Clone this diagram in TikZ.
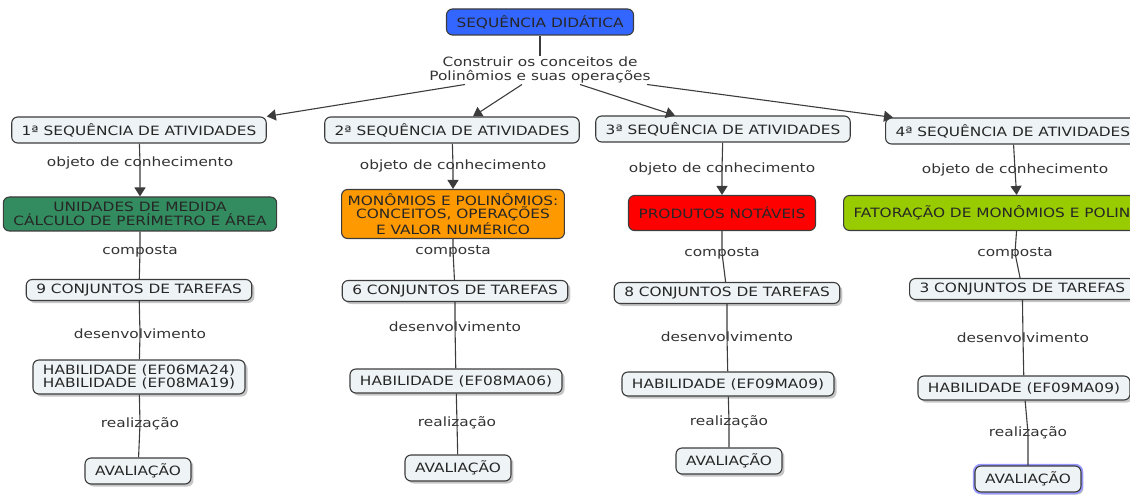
\documentclass[tikz,border=0pt]{standalone}
\usepackage{fontspec}
\setmainfont{DejaVu Sans}[FakeStretch=1.2]
\usetikzlibrary{arrows.meta,shadows}
\definecolor{boxgray}{RGB}{238,243,246}
\definecolor{edgegray}{RGB}{60,60,60}
\definecolor{rootblue}{RGB}{51,102,255}
\definecolor{medgreen}{RGB}{51,140,95}
\definecolor{monorange}{RGB}{255,153,0}
\definecolor{prodred}{RGB}{255,0,0}
\definecolor{fatlime}{RGB}{153,204,0}
\definecolor{selblue}{RGB}{150,150,255}
\tikzset{concept/.style={rectangle, draw=edgegray, fill=boxgray, rounded corners=6pt,
    align=center, inner xsep=10pt, inner ysep=3pt, minimum height=26pt, text=black!85},
  shadowed/.style={drop shadow={shadow xshift=2.5pt, shadow yshift=-2.5pt, opacity=0.45}},
  linkword/.style={align=center, inner sep=1pt, text=black!80}}

\begin{document}
\begin{tikzpicture}[x=1pt,y=-1pt,>={Triangle[length=9pt,width=11pt]},line width=1.1pt,
                    font=\fontsize{12.8}{13.5}\selectfont,draw=edgegray]
  \clip (0,0) rectangle (1130,497);

  \node[concept, fill=rootblue]     (root)   at (540,22)  {SEQUÊNCIA DIDÁTICA};
  \node[linkword]                   (phrase) at (540,70)  {Construir os conceitos de\\Polinômios e suas operações};

  \node[concept]                    (seqA)   at (139,130) {1ª SEQUÊNCIA DE ATIVIDADES};
  \node[concept]                    (seqB)   at (452,130) {2ª SEQUÊNCIA DE ATIVIDADES};
  \node[concept]                    (seqC)   at (723,129) {3ª SEQUÊNCIA DE ATIVIDADES};
  \node[concept, anchor=west]       (seqD)   at (885,131) {4ª SEQUÊNCIA DE ATIVIDADES};

  % objeto de conhecimento
  \node[linkword] (objA) at (140,163) {objeto de conhecimento};
  \node[linkword] (objB) at (453,166) {objeto de conhecimento};
  \node[linkword] (objC) at (722,169) {objeto de conhecimento};
  \node[linkword] (objD) at (1015,170) {objeto de conhecimento};

  \node[concept, fill=medgreen, minimum height=34pt, inner ysep=1pt] (unidA) at (140,214)
       {UNIDADES DE MEDIDA\\CÁLCULO DE PERÍMETRO E ÁREA};
  \node[concept, fill=monorange, minimum height=49pt, inner xsep=6pt] (monoB) at (453,214)
       {MONÔMIOS E POLINÔMIOS:\\CONCEITOS, OPERAÇÕES\\E VALOR NUMÉRICO};
  \node[concept, fill=prodred, minimum height=35pt] (prodC) at (722,213) {PRODUTOS NOTÁVEIS};
  \node[concept, fill=fatlime, minimum height=35pt, anchor=west] (fatD) at (843,213)
       {FATORAÇÃO DE MONÔMIOS E POLINÔMIOS};

  % composta
  \node[linkword] (compA) at (140,251) {composta};
  \node[linkword] (compB) at (453,251) {composta};
  \node[linkword] (compC) at (722,253) {composta};
  \node[linkword] (compD) at (1015,253) {composta};

  \node[concept, shadowed, minimum height=21pt, inner ysep=1pt] (tarA) at (139,290) {9 CONJUNTOS DE TAREFAS};
  \node[concept, shadowed, minimum height=21pt, inner ysep=1pt] (tarB) at (455,291) {6 CONJUNTOS DE TAREFAS};
  \node[concept, shadowed, minimum height=21pt, inner ysep=1pt] (tarC) at (727,293) {8 CONJUNTOS DE TAREFAS};
  \node[concept, shadowed, minimum height=21pt, inner ysep=1pt, anchor=west] (tarD) at (909,289) {3 CONJUNTOS DE TAREFAS};

  % desenvolvimento
  \node[linkword] (desA) at (140,334) {desenvolvimento};
  \node[linkword] (desB) at (455,327) {desenvolvimento};
  \node[linkword] (desC) at (727,337) {desenvolvimento};
  \node[linkword] (desD) at (1023,338) {desenvolvimento};

  \node[concept, shadowed, minimum height=34pt, inner ysep=1pt] (habA) at (139,377) {HABILIDADE (EF06MA24)\\HABILIDADE (EF08MA19)};
  \node[concept, shadowed, minimum height=24pt, inner ysep=1pt] (habB) at (456,381) {HABILIDADE (EF08MA06)};
  \node[concept, shadowed, minimum height=24pt, inner ysep=1pt] (habC) at (728,384) {HABILIDADE (EF09MA09)};
  \node[concept, shadowed, minimum height=24pt, inner ysep=1pt] (habD) at (1024,388) {HABILIDADE (EF09MA09)};

  % realizacao
  \node[linkword] (reaA) at (140,424) {realização};
  \node[linkword] (reaB) at (457,423) {realização};
  \node[linkword] (reaC) at (729,422) {realização};
  \node[linkword] (reaD) at (1028,433) {realização};

  \node[concept, shadowed] (avaA) at (138,471) {AVALIAÇÃO};
  \node[concept, shadowed] (avaB) at (458,468) {AVALIAÇÃO};
  \node[concept, shadowed] (avaC) at (729,461) {AVALIAÇÃO};
  \node[concept, shadowed, preaction={draw=selblue, line width=4.5pt}] (avaD) at (1028,479) {AVALIAÇÃO};

  % ligacoes
  \draw (root) -- (phrase);
  \draw[->] ([xshift=-75pt]phrase.south) -- (seqA.north east);
  \draw[->] ([xshift=-18pt]phrase.south) -- ([xshift=21pt]seqB.north);
  \draw[->] ([xshift=40pt]phrase.south) -- ([xshift=-48pt]seqC.north);
  \draw[->] ([xshift=107pt]phrase.south) -- ([xshift=8pt]seqD.north west);

  \foreach \c/\k in {A/unidA,B/monoB,C/prodC,D/fatD}{
    \draw[->] (seq\c) -- (obj\c.center) -- (\k);
    \draw (\k) -- (comp\c.center) -- (tar\c);
    \draw (tar\c) -- (des\c.center) -- (hab\c);
    \draw (hab\c) -- (rea\c.center) -- (ava\c);
  }
\end{tikzpicture}
\end{document}
